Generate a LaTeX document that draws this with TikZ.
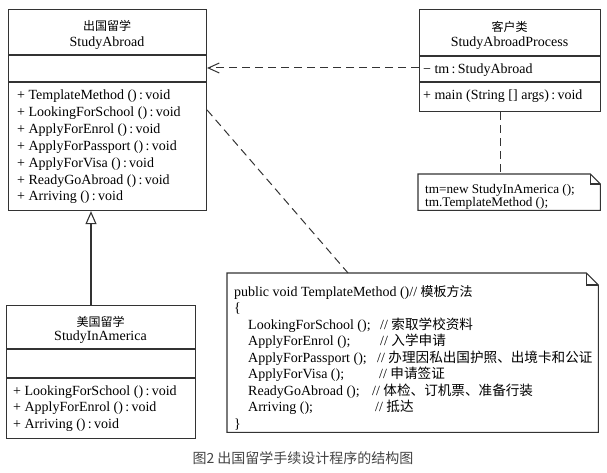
\documentclass[tikz,border=0pt]{standalone}
\usepackage{fontspec}
\setmainfont{Liberation Serif}
\newfontfamily\cjk{Noto Sans CJK SC}
\usetikzlibrary{arrows.meta}
\definecolor{linec}{HTML}{333333}
\definecolor{capc}{HTML}{444444}
\begin{document}
\begin{tikzpicture}[x=1pt,y=-1pt,
  box/.style={draw=linec, line width=1.1pt, inner sep=0pt, anchor=north west},
  ghost/.style={inner sep=0pt, anchor=north west},
  ln/.style={draw=linec, line width=1.1pt},
  dep/.style={draw=linec, line width=1pt, dash pattern=on 8pt off 5pt},
  mem/.style={anchor=base west, inner sep=0pt, font=\fontsize{14}{16}\selectfont},
  smallmem/.style={anchor=base west, inner sep=0pt, font=\fontsize{13.2}{14}\selectfont},
  ttl/.style={inner sep=0pt, font=\cjk\fontsize{12}{13}\selectfont},
  nm/.style={anchor=base, inner sep=0pt, font=\fontsize{14}{16}\selectfont},
]
\useasboundingbox (0,0) rectangle (607,473);
% helper coordinates
\coordinate (y55) at (0,55);
\coordinate (y82) at (0,82);
\coordinate (y56) at (0,56);
\coordinate (y68) at (0,68);
\coordinate (y110) at (0,110);
\coordinate (y349) at (0,349);
\coordinate (y378) at (0,378);
\coordinate (x500) at (500,0);
\coordinate (x348) at (348,0);
\coordinate (x91) at (91,0);

% ---- StudyAbroad
\node[box, minimum width=198pt, minimum height=201pt] (sa) at (8,9) {};
\draw[ln] (sa.west |- y55) -- (sa.east |- y55);
\draw[ln] (sa.west |- y82) -- (sa.east |- y82);
\node[ttl] (saT) at (107,25.5) {出国留学};
\node[nm] (saN) at (107,46.5) {StudyAbroad};
\node[mem] (sa1) at (17,100) {+ TemplateMethod ()\,:\,void};
\node[mem] (sa2) at (17,116.8) {+ LookingForSchool ()\,:\,void};
\node[mem] (sa3) at (17,133.6) {+ ApplyForEnrol ()\,:\,void};
\node[mem] (sa4) at (17,150.4) {+ ApplyForPassport ()\,:\,void};
\node[mem] (sa5) at (17,167.2) {+ ApplyForVisa ()\,:\,void};
\node[mem] (sa6) at (17,184) {+ ReadyGoAbroad ()\,:\,void};
\node[mem] (sa7) at (17,200.8) {+ Arriving ()\,:\,void};

% ---- StudyAbroadProcess
\node[box, minimum width=181pt, minimum height=102pt] (pr) at (419,9) {};
\draw[ln] (pr.west |- y56) -- (pr.east |- y56);
\draw[ln] (pr.west |- y82) -- (pr.east |- y82);
\node[ttl] (prT) at (509.5,26.7) {客户类};
\node[nm] (prN) at (509.5,46.7) {StudyAbroadProcess};
\node[mem] (pr1) at (423,73.5) {− tm\,:\,StudyAbroad};
\node[mem] (pr2) at (423,100) {+ main (String [] args)\,:\,void};

% ---- StudyInAmerica
\node[box, minimum width=189pt, minimum height=133pt] (sia) at (6,305) {};
\draw[ln] (sia.west |- y349) -- (sia.east |- y349);
\draw[ln] (sia.west |- y378) -- (sia.east |- y378);
\node[ttl] (siaT) at (100.5,321.7) {美国留学};
\node[nm] (siaN) at (100.5,340.5) {StudyInAmerica};
\node[mem] (sia1) at (13,395) {+ LookingForSchool ()\,:\,void};
\node[mem] (sia2) at (13,411.7) {+ ApplyForEnrol ()\,:\,void};
\node[mem] (sia3) at (13,428.3) {+ Arriving ()\,:\,void};

% ---- small note
\node[ghost, minimum width=182pt, minimum height=36pt] (n1) at (418,174) {};
\draw[ln, line join=miter] (n1.north west) -- ([xshift=-10pt]n1.north east)
  -- ([yshift=-10pt]n1.north east) -- (n1.south east) -- (n1.south west) -- cycle;
\draw[ln] ([xshift=-10pt]n1.north east) -- ([xshift=-10pt,yshift=-10pt]n1.north east)
  -- ([yshift=-10pt]n1.north east);
\node[smallmem] (n1a) at (425,193.5) {tm=new StudyInAmerica ();};
\node[smallmem] (n1b) at (425,206.5) {tm.TemplateMethod ();};

% ---- big note
\node[ghost, minimum width=371pt, minimum height=159pt] (n2) at (227,273) {};
\draw[ln, line join=miter] (n2.north west) -- ([xshift=-12pt]n2.north east)
  -- ([yshift=-12pt]n2.north east) -- (n2.south east) -- (n2.south west) -- cycle;
\draw[ln] ([xshift=-12pt]n2.north east) -- ([xshift=-12pt,yshift=-12pt]n2.north east)
  -- ([yshift=-12pt]n2.north east);
\node[mem] (c0) at (234,296) {public void TemplateMethod ()// {\cjk\fontsize{13}{16}\selectfont 模板方法}};
\node[mem] (c1) at (234,312.5) {\{};
\node[mem] (c2) at (248,329) {LookingForSchool ();};
\node[mem] (c2c) at (380,329) {// {\cjk\fontsize{13.6}{16}\selectfont 索取学校资料}};
\node[mem] (c3) at (248,345.5) {ApplyForEnrol ();};
\node[mem] (c3c) at (380,345.5) {// {\cjk\fontsize{13.6}{16}\selectfont 入学申请}};
\node[mem] (c4) at (248,362) {ApplyForPassport ();};
\node[mem] (c4c) at (377,362) {// {\cjk\fontsize{13.6}{16}\selectfont 办理因私出国护照、出境卡和公证}};
\node[mem] (c5) at (248,378.5) {ApplyForVisa ();};
\node[mem] (c5c) at (379,378.5) {// {\cjk\fontsize{13.6}{16}\selectfont 申请签证}};
\node[mem] (c6) at (248,395) {ReadyGoAbroad ();};
\node[mem] (c6c) at (372,395) {// {\cjk\fontsize{13.6}{16}\selectfont 体检、订机票、准备行装}};
\node[mem] (c7) at (248,411.5) {Arriving ();};
\node[mem] (c7c) at (375,411.5) {// {\cjk\fontsize{13.6}{16}\selectfont 抵达}};
\node[mem] (c8) at (234,428) {\}};

% ---- connectors
\draw[dep, -{Straight Barb[length=11pt,width=10pt]}] (pr.west |- y68) -- (sa.east |- y68);
\draw[dep] (pr.south -| x500) -- (n1.north -| x500);
\draw[dep] (sa.east |- y110) -- (n2.north -| x348);
\draw[ln, -{Triangle[open,length=13pt,width=11pt]}] (sia.north -| x91) -- (sa.south -| x91);

% ---- caption
\node[inner sep=0pt, text=capc, font=\cjk\fontsize{14}{16}\selectfont] (cap) at (303,458) {图2 出国留学手续设计程序的结构图};
\end{tikzpicture}
\end{document}
